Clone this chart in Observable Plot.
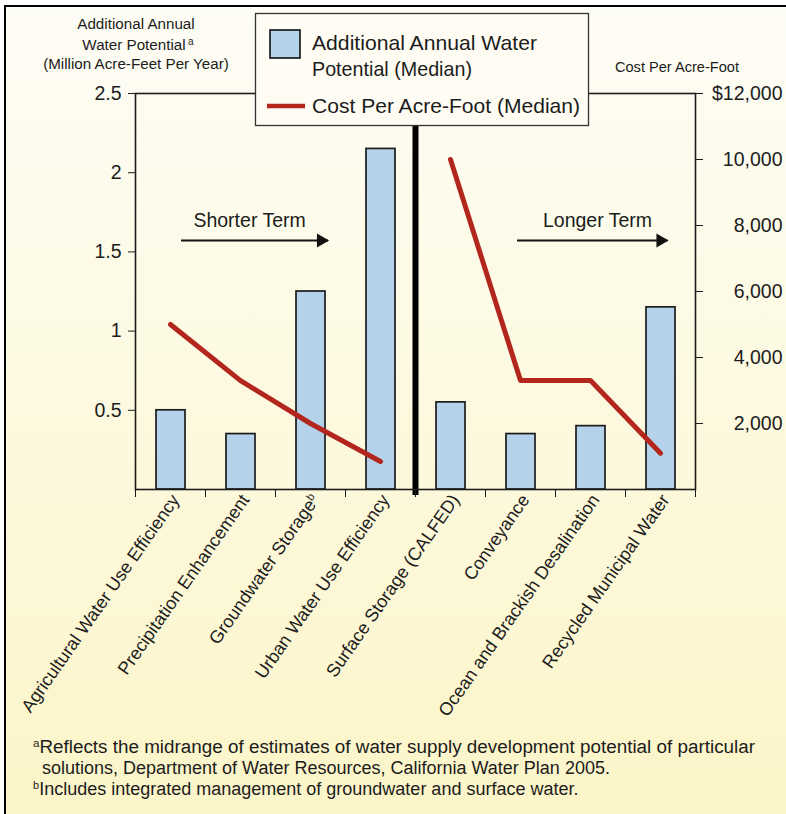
<!DOCTYPE html>
<html><head><meta charset="utf-8">
<script src="https://cdn.jsdelivr.net/npm/d3@7"></script>
<script src="https://cdn.jsdelivr.net/npm/@observablehq/plot@0.6"></script>
<style>
body{margin:0;background:#fff;}
#wrap{position:relative;width:786px;height:814px;overflow:hidden;font-family:"Liberation Sans",Arial,Helvetica,sans-serif;}
#panel{position:absolute;left:4px;top:5px;width:800px;height:820px;box-sizing:border-box;border:2.5px solid #000;background:linear-gradient(to bottom,#fefdf6 0%,#fdfae4 40%,#fcf5c8 100%);}
#chart{position:absolute;left:0;top:0;}
#overlay{position:absolute;left:0;top:0;}
</style></head><body>
<div id="wrap"><div id="panel"></div><div id="chart"></div><svg id="overlay" width="786" height="814"></svg></div>
<script>
// ---- data ----
const categories = [
  "Agricultural Water Use Efficiency",
  "Precipitation Enhancement",
  "Groundwater Storage",
  "Urban Water Use Efficiency",
  "Surface Storage (CALFED)",
  "Conveyance",
  "Ocean and Brackish Desalination",
  "Recycled Municipal Water"
];
const categoryNotes = ["", "", "b", "", "", "", "", ""];
const water = [0.5, 0.35, 1.25, 2.15, 0.55, 0.35, 0.40, 1.15];       // million acre-feet per year
const cost = [5000, 3300, 2000, 850, 10000, 3300, 3300, 1100];       // $ per acre-foot
const term = ["Shorter Term","Shorter Term","Shorter Term","Shorter Term","Longer Term","Longer Term","Longer Term","Longer Term"];
const waterTicks = [0.5, 1, 1.5, 2, 2.5];
const costTicks = [2000, 4000, 6000, 8000, 10000, 12000];
const waterMax = 2.5;
const costMax = 12000;
const termLabels = ["Shorter Term", "Longer Term"];

// ---- build ----
const f = waterMax / costMax;
const rows = categories.map((c, i) => ({category: c, i, water: water[i], cost: cost[i], term: term[i]}));
const split = term.indexOf("Longer Term");
const arrows = [
  {label: termLabels[0], x1: 0.65, x2: 2.75, tx: 1.63, y: 1.572, ty: 1.66},
  {label: termLabels[1], x1: 5.45, x2: 7.6, tx: 6.6, y: 1.572, ty: 1.66}
];
const ink = "#1c1c1c";
const barFill = "#b4d2e9";
const red = "#b3261e";
const font = '"Liberation Sans",Arial,Helvetica,sans-serif';

const plot = Plot.plot({
  width: 786, height: 814,
  marginLeft: 135, marginRight: 91, marginTop: 93, marginBottom: 325,
  style: {background: "transparent", fontFamily: font, color: ink, overflow: "visible"},
  x: {domain: [0, categories.length], axis: null},
  y: {domain: [0, waterMax], axis: null},
  marks: [
    Plot.rectY(rows, {x1: d => d.i, x2: d => d.i + 1, y: "water", insetLeft: 21, insetRight: 20,
      fill: barFill, stroke: ink, strokeWidth: 1.7}),
    Plot.ruleX([split], {stroke: "#000", strokeWidth: 6, insetBottom: -6}),
    Plot.line(rows, {x: d => d.i + 0.5, y: d => d.cost * f, z: "term", stroke: red,
      strokeWidth: 5, strokeLinecap: "round", strokeLinejoin: "round"}),
    Plot.frame({stroke: ink, strokeWidth: 1.6}),
    Plot.axisY({anchor: "left", ticks: waterTicks, tickSize: 7, tickPadding: 7, fontSize: 19.5,
      label: null, tickFormat: d => String(d)}),
    Plot.axisY({anchor: "right", ticks: costTicks.map(c => c * f), tickSize: 7, tickPadding: 80,
      textAnchor: "end", fontSize: 19.5, label: null,
      tickFormat: d => { const v = Math.round(d / f); return (v === costMax ? "$" : "") + d3.format(",")(v); }}),
    Plot.axisX({ticks: d3.range(0, categories.length + 1), tickSize: 8, tickFormat: () => "", label: null}),
    Plot.text(rows, {x: d => d.i + 0.5, y: () => 0, text: "category", rotate: -55, textAnchor: "end",
      lineAnchor: "middle", dx: 5, dy: 7, fontSize: 18, fill: ink}),
    Plot.link(arrows, {x1: "x1", x2: "x2", y1: "y", y2: "y", stroke: "#111", strokeWidth: 1.8}),
    Plot.dot(arrows, {x: "x2", y: "y", symbol: "triangle", r: 5.2, rotate: 90, fill: "#111", stroke: "none", dx: -7}),
    Plot.text(arrows, {x: "tx", y: "ty", text: "label", fontSize: 19.5, lineAnchor: "bottom", fill: ink})
  ]
});

// superscript footnote markers on category labels
d3.select(plot).selectAll("text").each(function () {
  const idx = categories.indexOf(this.textContent);
  if (idx >= 0 && categoryNotes[idx]) {
    d3.select(this).append("tspan").attr("baseline-shift", "super").attr("font-size", "11px").text(categoryNotes[idx]);
  }
});
document.getElementById("chart").appendChild(plot);

// ---- overlay: titles, legend, footnotes ----
const svg = d3.select("#overlay").style("font-family", font);
function txt(x, y, s, size, opts = {}) {
  const t = svg.append("text").attr("x", x).attr("y", y).attr("font-size", size).attr("fill", ink);
  if (opts.pre) t.append("tspan").attr("font-size", 11).attr("baseline-shift", "super").text(opts.pre);
  t.append("tspan").text(s);
  if (opts.anchor) t.attr("text-anchor", opts.anchor);
  if (opts.len) t.attr("textLength", opts.len).attr("lengthAdjust", "spacingAndGlyphs");
  return t;
}
// left axis title
txt(136, 29, "Additional Annual", 15.2, {anchor: "middle"});
txt(134, 50, "Water Potential", 15.2, {anchor: "middle"});
txt(188, 45, "a", 10);
txt(136, 69, "(Million Acre-Feet Per Year)", 15.2, {anchor: "middle"});
// right axis title
txt(677, 72, "Cost Per Acre-Foot", 14.6, {anchor: "middle"});
// legend
svg.append("rect").attr("x", 255.5).attr("y", 13.5).attr("width", 333).attr("height", 112)
  .attr("fill", "#fffdf3").attr("stroke", "#333").attr("stroke-width", 1.3);
svg.append("rect").attr("x", 270).attr("y", 30).attr("width", 30).attr("height", 28)
  .attr("fill", barFill).attr("stroke", ink).attr("stroke-width", 1.7);
txt(312, 50, "Additional Annual Water", 21, {len: 225});
txt(312, 76, "Potential (Median)", 21, {len: 160});
svg.append("line").attr("x1", 267).attr("x2", 305).attr("y1", 106).attr("y2", 106)
  .attr("stroke", red).attr("stroke-width", 4.5);
txt(312, 113, "Cost Per Acre-Foot (Median)", 21, {len: 268});
// footnotes
txt(33, 753, "Reflects the midrange of estimates of water supply development potential of particular", 18, {len: 722, pre: "a"});
txt(42, 774, "solutions, Department of Water Resources, California Water Plan 2005.", 18);
txt(33, 795, "Includes integrated management of groundwater and surface water.", 18, {pre: "b"});
</script>
</body></html>
